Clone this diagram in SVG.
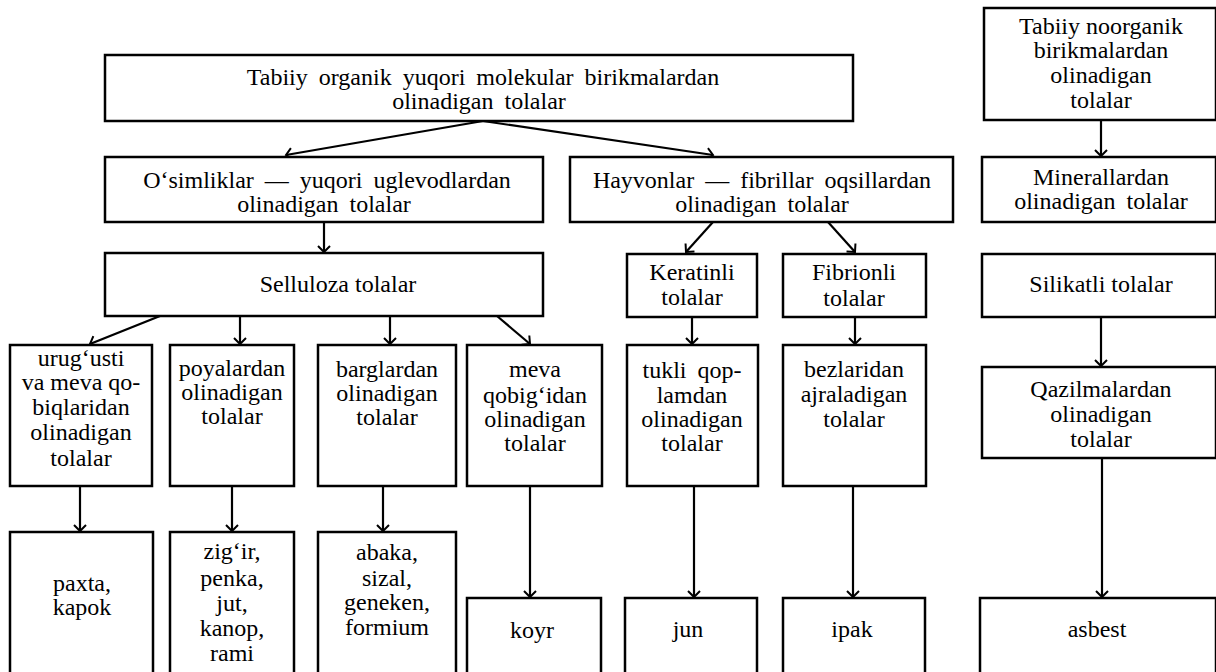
<svg xmlns="http://www.w3.org/2000/svg" width="1216" height="672" viewBox="0 0 1216 672">
<style>
rect{fill:#fff;stroke:#000;stroke-width:2.5}
text{font-size:24px;fill:#000;text-anchor:middle}
.ws{word-spacing:5px}
#connectors line{stroke:#000;stroke-width:2.2;marker-end:url(#ah)}
</style>
<defs>
<marker id="ah" markerWidth="14" markerHeight="14" refX="7" refY="7" orient="auto" markerUnits="userSpaceOnUse">
<path d="M1,1 L7,7 L1,13" fill="none" stroke="#000" stroke-width="2"/>
</marker>
</defs>
<rect x="0" y="0" width="1216" height="672" style="stroke:none"/>
<g id="connectors">
<line x1="483" y1="121" x2="286" y2="155"/>
<line x1="483" y1="121" x2="713" y2="155"/>
<line x1="324" y1="222" x2="324" y2="252"/>
<line x1="160" y1="316" x2="90" y2="344"/>
<line x1="240" y1="316" x2="240" y2="344"/>
<line x1="390" y1="316" x2="390" y2="344"/>
<line x1="497" y1="316" x2="530" y2="344"/>
<line x1="713" y1="222" x2="686" y2="252"/>
<line x1="828" y1="222" x2="855" y2="252"/>
<line x1="692" y1="317" x2="692" y2="344"/>
<line x1="855" y1="317" x2="855" y2="344"/>
<line x1="1101" y1="120" x2="1101" y2="156"/>
<line x1="1101" y1="317" x2="1101" y2="366"/>
<line x1="1102" y1="458" x2="1102" y2="597"/>
<line x1="80" y1="486" x2="80" y2="531"/>
<line x1="232" y1="486" x2="232" y2="531"/>
<line x1="383" y1="486" x2="383" y2="531"/>
<line x1="530" y1="486" x2="530" y2="597"/>
<line x1="694" y1="486" x2="694" y2="597"/>
<line x1="853" y1="486" x2="853" y2="597"/>
</g>
<g font-family="'Liberation Serif', 'DejaVu Serif', 'Times New Roman', serif">
<g id="n-top"><rect x="105" y="55" width="748" height="66"/>
<text x="483" y="85" class="ws">Tabiiy organik yuqori molekular birikmalardan</text>
<text x="479" y="109" class="ws">olinadigan tolalar</text></g>
<g id="n-osimlik"><rect x="105" y="157" width="438" height="65"/>
<text x="327" y="188" class="ws">O‘simliklar — yuqori uglevodlardan</text>
<text x="324" y="212" class="ws">olinadigan tolalar</text></g>
<g id="n-hayvon"><rect x="570" y="157" width="383" height="65"/>
<text x="762" y="188" class="ws">Hayvonlar — fibrillar oqsillardan</text>
<text x="762" y="212" class="ws">olinadigan tolalar</text></g>
<g id="n-sellu"><rect x="105" y="253" width="438" height="63"/>
<text x="338" y="292">Selluloza tolalar</text></g>
<g id="n-keratin"><rect x="627" y="254" width="130" height="63"/>
<text x="692" y="280">Keratinli</text><text x="692" y="305">tolalar</text></g>
<g id="n-fibrion"><rect x="783" y="254" width="143" height="63"/>
<text x="854" y="280">Fibrionli</text><text x="854" y="306">tolalar</text></g>
<g id="n-urug"><rect x="10" y="345" width="142" height="141"/>
<text x="81" y="366">urug‘usti</text><text x="81" y="390">va meva qo-</text><text x="81" y="415">biqlaridan</text><text x="81" y="440">olinadigan</text><text x="81" y="466">tolalar</text></g>
<g id="n-poya"><rect x="170" y="345" width="124" height="141"/>
<text x="232" y="376">poyalardan</text><text x="232" y="400">olinadigan</text><text x="232" y="424">tolalar</text></g>
<g id="n-barg"><rect x="318" y="345" width="138" height="141"/>
<text x="387" y="377">barglardan</text><text x="387" y="401">olinadigan</text><text x="387" y="425">tolalar</text></g>
<g id="n-meva"><rect x="467" y="345" width="135" height="141"/>
<text x="535" y="377">meva</text><text x="535" y="403">qobig‘idan</text><text x="535" y="427">olinadigan</text><text x="535" y="451">tolalar</text></g>
<g id="n-tukli"><rect x="627" y="345" width="131" height="141"/>
<text x="692" y="378" class="ws">tukli qop-</text><text x="692" y="403">lamdan</text><text x="692" y="427">olinadigan</text><text x="692" y="451">tolalar</text></g>
<g id="n-bez"><rect x="783" y="345" width="143" height="141"/>
<text x="854" y="377">bezlaridan</text><text x="854" y="402">ajraladigan</text><text x="854" y="427">tolalar</text></g>
<g id="n-noorg"><rect x="984" y="8" width="232" height="112"/>
<text x="1101" y="34">Tabiiy noorganik</text><text x="1101" y="58">birikmalardan</text><text x="1101" y="83">olinadigan</text><text x="1101" y="108">tolalar</text></g>
<g id="n-mineral"><rect x="982" y="157" width="234" height="65"/>
<text x="1101" y="185">Minerallardan</text><text x="1101" y="209" class="ws">olinadigan tolalar</text></g>
<g id="n-silikat"><rect x="982" y="254" width="234" height="63"/>
<text x="1101" y="292">Silikatli tolalar</text></g>
<g id="n-qazil"><rect x="982" y="367" width="234" height="91"/>
<text x="1101" y="397">Qazilmalardan</text><text x="1101" y="422">olinadigan</text><text x="1101" y="447">tolalar</text></g>
<g id="n-paxta"><rect x="10" y="532" width="143" height="142"/>
<text x="82" y="591">paxta,</text><text x="82" y="615">kapok</text></g>
<g id="n-zigir"><rect x="170" y="532" width="124" height="142"/>
<text x="232" y="559">zig‘ir,</text><text x="232" y="586">penka,</text><text x="232" y="611">jut,</text><text x="232" y="636">kanop,</text><text x="232" y="661">rami</text></g>
<g id="n-abaka"><rect x="318" y="532" width="138" height="142"/>
<text x="387" y="560">abaka,</text><text x="387" y="586">sizal,</text><text x="387" y="610">geneken,</text><text x="387" y="635">formium</text></g>
<g id="n-koyr"><rect x="467" y="598" width="134" height="76"/>
<text x="532" y="638">koyr</text></g>
<g id="n-jun"><rect x="625" y="598" width="132" height="76"/>
<text x="688" y="637">jun</text></g>
<g id="n-ipak"><rect x="783" y="598" width="142" height="76"/>
<text x="852" y="637">ipak</text></g>
<g id="n-asbest"><rect x="980" y="598" width="236" height="76"/>
<text x="1097" y="637">asbest</text></g>
</g>
</svg>
